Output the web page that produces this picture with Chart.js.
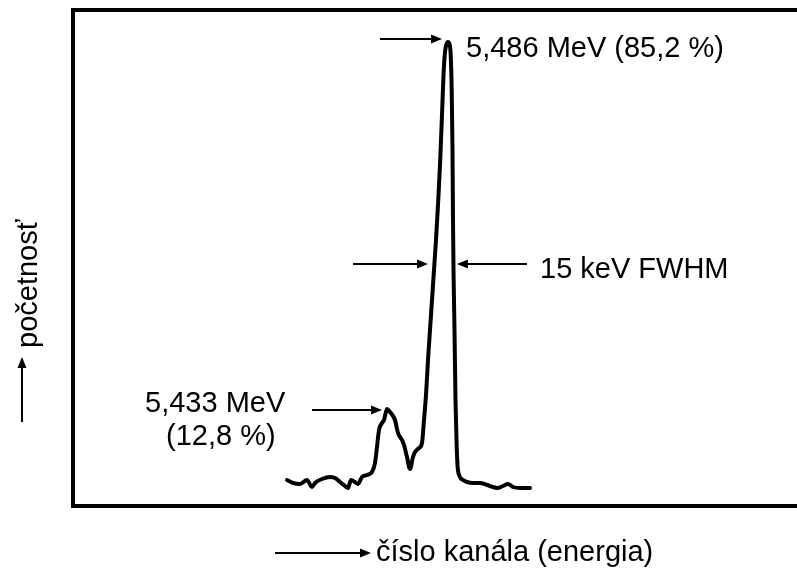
<!DOCTYPE html>
<html>
<head>
<meta charset="utf-8">
<script src="https://cdn.jsdelivr.net/npm/chart.js@4/dist/chart.umd.min.js"></script>
<style>
  body { margin: 0; background: #fff; }
</style>
</head>
<body>
<canvas id="spectrum" width="797" height="569"></canvas>
<script>
// alpha spectrum, channel number vs counts
var channels = [214, 220, 227, 234, 239, 242, 249, 257, 262, 267, 272, 275, 278, 282, 285, 289, 294, 299,
    302, 304, 306, 309, 311, 314, 317, 322, 325, 329, 331, 334, 337, 340, 342, 346, 349, 351, 353, 355,
    357, 359, 361, 363, 365, 367, 369, 370.5, 372, 373.5, 375, 376.5, 377.7, 378.7, 379.5, 380, 380.5,
    381.5, 382.5, 383.5, 384.5, 386.5, 390, 394, 400, 407, 414, 420, 425, 430, 435, 440, 447, 457];
var counts = [26, 23, 22, 26, 19, 23, 27, 29, 28, 24, 20, 18, 26, 24, 22, 29, 31, 34,
    43, 59, 76, 83, 86, 97, 94, 86, 73, 66, 61, 49, 37, 49, 54, 58, 63, 86, 111, 146,
    176, 206, 236, 266, 301, 341, 391, 431, 454, 462, 464, 462, 451, 416, 356, 286, 236,
    176, 106, 66, 41, 30, 26, 24, 23, 23, 21, 19, 18, 20, 22, 19, 18, 18];

// annotations: arrows [fromChannel, toChannel, count]
var arrows = [
    [307, 369, 467],
    [280, 355, 242],
    [454, 384, 242],
    [239, 309, 96]
];
var labels = ['5,486 MeV (85,2 %)', '15 keV FWHM', '5,433 MeV', '(12,8 %)'];
var labelPos = [[393, 449], [467, 228], [72, 94], [93, 61]];

var xTitle = 'číslo kanála (energia)';
var yTitle = 'početnosť';

function arrow(ctx, x1, y1, x2, y2) {
    var dir = x2 > x1 ? 1 : (x2 < x1 ? -1 : 0);
    ctx.save();
    ctx.strokeStyle = '#000';
    ctx.fillStyle = '#000';
    ctx.lineWidth = 2;
    ctx.beginPath();
    if (dir !== 0) {
        ctx.moveTo(x1, y1);
        ctx.lineTo(x2 - dir * 8, y2);
        ctx.stroke();
        ctx.beginPath();
        ctx.moveTo(x2, y2);
        ctx.lineTo(x2 - dir * 11, y2 - 4.5);
        ctx.lineTo(x2 - dir * 11, y2 + 4.5);
    } else {
        var d = y2 > y1 ? 1 : -1;
        ctx.moveTo(x1, y1);
        ctx.lineTo(x2, y2 - d * 8);
        ctx.stroke();
        ctx.beginPath();
        ctx.moveTo(x2, y2);
        ctx.lineTo(x2 - 4.5, y2 - d * 11);
        ctx.lineTo(x2 + 4.5, y2 - d * 11);
    }
    ctx.closePath();
    ctx.fill();
    ctx.restore();
}

const decorations = {
    id: 'decorations',
    afterDraw(chart) {
        const ctx = chart.ctx;
        const area = chart.chartArea;
        const xs = chart.scales.x;
        const ys = chart.scales.y;

        // frame (open on the right)
        ctx.save();
        ctx.strokeStyle = '#000';
        ctx.lineWidth = 4;
        ctx.lineCap = 'square';
        ctx.beginPath();
        ctx.moveTo(chart.width + 5, area.top);
        ctx.lineTo(area.left, area.top);
        ctx.lineTo(area.left, area.bottom);
        ctx.lineTo(chart.width + 5, area.bottom);
        ctx.stroke();
        ctx.restore();

        arrows.forEach(function (a) {
            arrow(ctx, xs.getPixelForValue(a[0]), ys.getPixelForValue(a[2]),
                xs.getPixelForValue(a[1]), ys.getPixelForValue(a[2]));
        });

        ctx.save();
        ctx.fillStyle = '#000';
        ctx.font = '29px "Liberation Sans", Arial, sans-serif';
        ctx.textBaseline = 'alphabetic';
        labels.forEach(function (t, i) {
            ctx.fillText(t, xs.getPixelForValue(labelPos[i][0]), ys.getPixelForValue(labelPos[i][1]));
        });

        // axis titles with their arrows
        arrow(ctx, 275, 553, 371, 553);
        ctx.fillText(xTitle, 376, 561);

        arrow(ctx, 22, 422, 22, 357);
        ctx.translate(37, 348);
        ctx.rotate(-Math.PI / 2);
        ctx.fillText(yTitle, 0, 0);
        ctx.restore();
    }
};

new Chart(document.getElementById('spectrum'), {
    type: 'line',
    data: {
        datasets: [{
            data: channels.map((c, i) => ({ x: c, y: counts[i] })),
            borderColor: '#000',
            borderWidth: 4,
            pointRadius: 0,
            fill: false,
            cubicInterpolationMode: 'monotone',
            borderJoinStyle: 'round',
            borderCapStyle: 'round',
            clip: false
        }]
    },
    options: {
        responsive: false,
        animation: false,
        layout: {
            padding: { left: 73, right: 0, top: 10, bottom: 63 }
        },
        plugins: {
            legend: { display: false },
            tooltip: { enabled: false }
        },
        scales: {
            x: { type: 'linear', min: 0, max: 724, display: false },
            y: { type: 'linear', min: 0, max: 496, display: false }
        }
    },
    plugins: [decorations]
});
</script>
</body>
</html>
